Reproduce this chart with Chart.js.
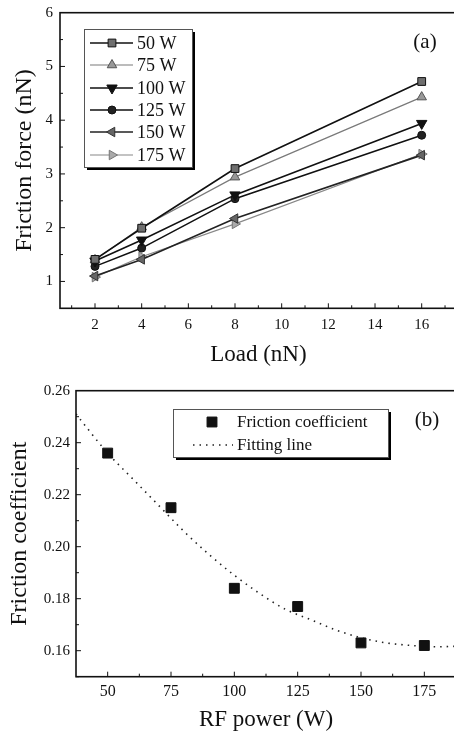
<!DOCTYPE html>
<html>
<head>
<meta charset="utf-8">
<script src="https://cdn.jsdelivr.net/npm/chart.js@4.4.0/dist/chart.umd.min.js"></script>
<style>
html, body { margin: 0; padding: 0; background: #fff; overflow: hidden; width: 454px; height: 736px; }
#wrapA { position: absolute; left: 0; top: 0; width: 460px; height: 370px; }
#wrapB { position: absolute; left: 0; top: 370px; width: 460px; height: 366px; }
</style>
</head>
<body>
<div id="wrapA"><canvas id="chartA" width="460" height="370"></canvas></div>
<div id="wrapB"><canvas id="chartB" width="460" height="366"></canvas></div>
<script>
// (a) friction force vs load, one series per RF power
const loads = [2, 4, 8, 16];
const powerLabels = ['50 W', '75 W', '100 W', '125 W', '150 W', '175 W'];
const force50 = [1.41, 1.99, 3.10, 4.72];
const force75 = [1.40, 2.01, 2.94, 4.43];
const force100 = [1.38, 1.77, 2.61, 3.94];
const force125 = [1.28, 1.62, 2.54, 3.72];
const force150 = [1.10, 1.41, 2.17, 3.35];
const force175 = [1.08, 1.46, 2.07, 3.37];
const loadTicks = [2, 4, 6, 8, 10, 12, 14, 16];
const forceTicks = [1, 2, 3, 4, 5, 6];

// (b) friction coefficient vs RF power
const rfPower = [50, 75, 100, 125, 150, 175];
const frictionCoef = [0.236, 0.215, 0.184, 0.177, 0.163, 0.162];
const fitPower = [37.5, 50, 60, 70, 80, 90, 100, 110, 120, 130, 140, 150, 160, 170, 180, 187.5];
const fitCoef = [0.251, 0.236, 0.226, 0.216, 0.206, 0.197, 0.189, 0.182, 0.176, 0.172, 0.168, 0.165, 0.163, 0.162, 0.1615, 0.1617];
const rfTicks = [50, 75, 100, 125, 150, 175];
const coefTicks = [0.16, 0.18, 0.20, 0.22, 0.24, 0.26];

const serif = 'Liberation Serif';
const ink = '#111';

const seriesA = [force50, force75, force100, force125, force150, force175];
const styleA = [
    {pointStyle: 'rect', rotation: 0, radius: 5.5, fill: '#6f6f6f', stroke: '#111', line: '#111', lw: 1.6},
    {pointStyle: 'triangle', rotation: 0, radius: 5.5, fill: '#999', stroke: '#555', line: '#7a7a7a', lw: 1.2},
    {pointStyle: 'triangle', rotation: 180, radius: 6, fill: '#111', stroke: '#111', line: '#111', lw: 1.6},
    {pointStyle: 'circle', rotation: 0, radius: 4, fill: '#222', stroke: '#111', line: '#111', lw: 1.6},
    {pointStyle: 'triangle', rotation: -90, radius: 5.5, fill: '#666', stroke: '#333', line: '#222', lw: 1.6},
    {pointStyle: 'triangle', rotation: 90, radius: 5.5, fill: '#aaa', stroke: '#777', line: '#888', lw: 1.2}
];

function drawMarker(ctx, ds, x, y) {
    ctx.save();
    ctx.fillStyle = ds.pointBackgroundColor;
    ctx.strokeStyle = ds.pointBorderColor;
    ctx.lineWidth = ds.pointBorderWidth || 1;
    Chart.helpers.drawPoint(ctx, {
        pointStyle: ds.pointStyle,
        rotation: ds.pointRotation || 0,
        radius: ds.pointRadius,
        borderWidth: ds.pointBorderWidth || 1
    }, x, y);
    ctx.restore();
}

function halfSteps(ticks, min, max) {
    const step = (ticks[1] - ticks[0]) / 2;
    const out = [];
    let v = ticks[0] - step;
    while (v > min) v -= step;
    for (v += step; v < max; v += step) out.push(v);
    return out;
}

// frame, inward ticks, panel label and an in-plot legend
const framePlugin = {
    id: 'frame',
    afterDatasetsDraw(chart, args, opts) {
        const {ctx, chartArea: a, scales} = chart;
        const xs = scales.x, ys = scales.y;
        ctx.save();
        ctx.strokeStyle = ink;
        ctx.lineWidth = 1;
        ctx.beginPath();
        halfSteps(opts.xTicks, xs.min, xs.max).forEach(v => {
            const px = xs.getPixelForValue(v);
            const len = opts.xTicks.some(t => Math.abs(t - v) < 1e-6) ? 5 : 3;
            ctx.moveTo(px, a.bottom);
            ctx.lineTo(px, a.bottom - len);
        });
        halfSteps(opts.yTicks, ys.min, ys.max).forEach(v => {
            const py = ys.getPixelForValue(v);
            const len = opts.yTicks.some(t => Math.abs(t - v) < 1e-6) ? 5 : 3;
            ctx.moveTo(a.left, py);
            ctx.lineTo(a.left + len, py);
        });
        ctx.stroke();
        ctx.lineWidth = 1.6;
        ctx.strokeRect(a.left, a.top, a.right - a.left, a.bottom - a.top);

        ctx.fillStyle = ink;
        ctx.font = '21px "' + serif + '"';
        ctx.textAlign = 'center';
        ctx.textBaseline = 'middle';
        ctx.fillText(opts.label, opts.labelX, opts.labelY);

        const lg = opts.legend;
        ctx.fillStyle = '#000';
        ctx.fillRect(lg.x + 3, lg.y + 3, lg.w, lg.h);
        ctx.fillStyle = '#fff';
        ctx.fillRect(lg.x, lg.y, lg.w, lg.h);
        ctx.strokeStyle = '#555';
        ctx.lineWidth = 1;
        ctx.strokeRect(lg.x + 0.5, lg.y + 0.5, lg.w, lg.h);
        ctx.font = lg.fontSize + 'px "' + serif + '"';
        ctx.textAlign = 'left';
        lg.rows.forEach(r => {
            const ds = chart.data.datasets[r.index];
            if (ds.showLine !== false) {
                ctx.save();
                ctx.strokeStyle = ds.borderColor;
                ctx.lineWidth = ds.borderWidth;
                ctx.setLineDash(ds.borderDash || []);
                ctx.beginPath();
                ctx.moveTo(lg.lineX1, r.y);
                ctx.lineTo(lg.lineX2, r.y);
                ctx.stroke();
                ctx.restore();
            }
            if (ds.pointRadius > 0) drawMarker(ctx, ds, lg.markX, r.y);
            ctx.fillStyle = ink;
            ctx.fillText(ds.label, lg.textX, r.y + 1);
        });
        ctx.restore();
    }
};

function axis(min, max, ticks, fmt, size, pad, title, tsize, tpad, fit) {
    return {
        type: 'linear', min: min, max: max,
        afterBuildTicks: s => { s.ticks = ticks.map(v => ({value: v})); },
        afterFit: s => {
            fit(s);
            s.paddingLeft = 0; s.paddingRight = 0;
            s.paddingTop = 0; s.paddingBottom = 0;
        },
        grid: {display: false, drawTicks: false},
        border: {display: false},
        ticks: {padding: pad, color: ink, font: {family: serif, size: size}, callback: fmt},
        title: {display: true, text: title, color: ink, font: {family: serif, size: tsize}, padding: tpad}
    };
}

window.onload = function () {
    const dataA = {
        datasets: seriesA.map((vals, i) => ({
            label: powerLabels[i],
            data: loads.map((x, j) => ({x: x, y: vals[j]})),
            borderColor: styleA[i].line,
            borderWidth: styleA[i].lw,
            pointStyle: styleA[i].pointStyle,
            pointRotation: styleA[i].rotation,
            pointRadius: styleA[i].radius,
            pointBackgroundColor: styleA[i].fill,
            pointBorderColor: styleA[i].stroke,
            pointBorderWidth: 1,
            tension: 0
        }))
    };

    new Chart(document.getElementById('chartA').getContext('2d'), {
        type: 'line',
        data: dataA,
        options: {
            responsive: false,
            animation: false,
            layout: {autoPadding: false, padding: {top: 12.7, right: 3.3, left: 0, bottom: 0}},
            scales: {
                x: axis(0.5, 17.5, loadTicks, v => v, 15, 8, 'Load (nN)', 23, {top: 0, bottom: 1.2}, s => { s.height = 61.7; }),
                y: axis(0.5, 6, forceTicks, v => v, 15, 7, 'Friction force (nN)', 24, {top: 10.6, bottom: 0}, s => { s.width = 60; })
            },
            plugins: {
                legend: {display: false},
                tooltip: {enabled: false},
                frame: {
                    xTicks: loadTicks, yTicks: forceTicks,
                    label: '(a)', labelX: 425, labelY: 42,
                    legend: {
                        x: 84, y: 29, w: 108, h: 138, fontSize: 18,
                        lineX1: 90, lineX2: 133, markX: 112, textX: 137,
                        rows: [43, 65, 88, 110, 132, 155].map((y, i) => ({index: i, y: y}))
                    }
                }
            }
        },
        plugins: [framePlugin]
    });

    new Chart(document.getElementById('chartB').getContext('2d'), {
        type: 'line',
        data: {
            datasets: [{
                label: 'Friction coefficient',
                data: rfPower.map((x, i) => ({x: x, y: frictionCoef[i]})),
                showLine: false,
                pointStyle: 'rect',
                pointRadius: 7,
                pointBackgroundColor: '#111',
                pointBorderColor: '#111',
                pointBorderWidth: 1
            }, {
                label: 'Fitting line',
                data: fitPower.map((x, i) => ({x: x, y: fitCoef[i]})),
                borderColor: '#222',
                borderWidth: 1.6,
                borderDash: [1.5, 5],
                pointRadius: 0,
                cubicInterpolationMode: 'monotone'
            }]
        },
        options: {
            responsive: false,
            animation: false,
            layout: {autoPadding: false, padding: {top: 20.7, right: 4, left: 0, bottom: 0}},
            scales: {
                x: axis(37.5, 187.5, rfTicks, v => v, 16, 5, 'RF power (W)', 23, {top: 0, bottom: 2.2}, s => { s.height = 59.3; }),
                y: axis(0.15, 0.26, coefTicks, v => v.toFixed(2), 15, 6, 'Friction coefficient', 24, {top: 5.6, bottom: 0}, s => { s.width = 76; })
            },
            plugins: {
                legend: {display: false},
                tooltip: {enabled: false},
                frame: {
                    xTicks: rfTicks, yTicks: coefTicks,
                    label: '(b)', labelX: 427, labelY: 50,
                    legend: {
                        x: 173, y: 39, w: 215, h: 48, fontSize: 17,
                        lineX1: 193, lineX2: 233, markX: 212, textX: 237,
                        rows: [{index: 0, y: 52}, {index: 1, y: 75}]
                    }
                }
            }
        },
        plugins: [framePlugin]
    });
};
</script>
</body>
</html>
